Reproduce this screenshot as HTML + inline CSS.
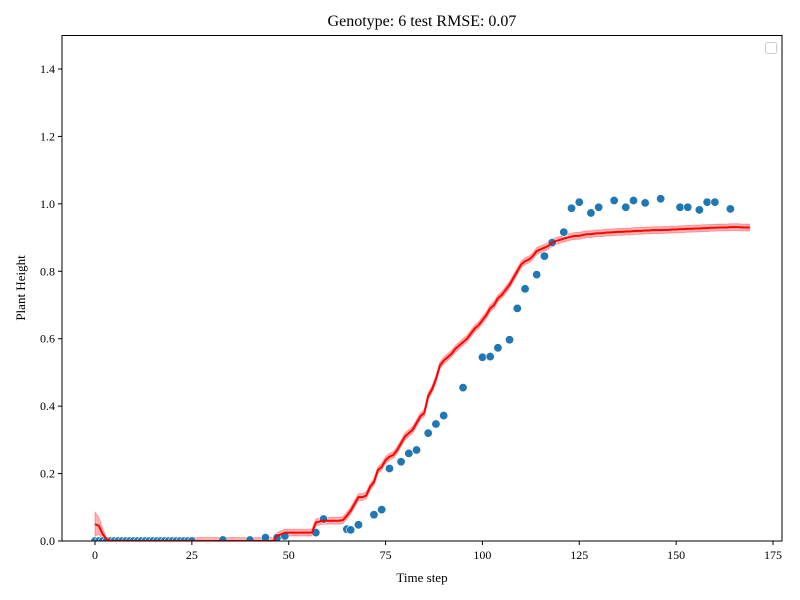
<!DOCTYPE html>
<html><head><meta charset="utf-8"><style>
body{margin:0;background:#fff}
svg{display:block;font-family:"Liberation Serif","DejaVu Serif",serif}
</style></head><body>
<svg id="chart" width="800" height="600" viewBox="0 0 800 600">
<rect width="800" height="600" fill="#fff"/>
<text x="422" y="26" font-size="16" text-anchor="middle">Genotype: 6 test RMSE: 0.07</text>
<g id="plot"></g>
<g id="axes"></g>
<rect x="765.5" y="42.5" width="11" height="11" rx="2" fill="#fff" stroke="#ccc"/>
<text x="422" y="582" font-size="13" text-anchor="middle">Time step</text>
<text transform="translate(25,288) rotate(-90)" font-size="13" text-anchor="middle">Plant Height</text>
</svg>
<script>
const xTicks=[0,25,50,75,100,125,150,175];
const yTicks=[0,0.2,0.4,0.6,0.8,1.0,1.2,1.4];
const obsX=[0,1,2,3,4,5,6,7,8,9,10,11,12,13,14,15,16,17,18,19,20,21,22,23,24,25,33,40,44,47,49,57,59,65,66,68,72,74,76,79,81,83,86,88,90,95,100,102,104,107,109,111,114,116,118,121,123,125,128,130,134,137,139,142,146,151,153,156,158,160,164];
const obsY=[0,0,0,0,0,0,0,0,0,0,0,0,0,0,0,0,0,0,0,0,0,0,0,0,0,0,0.003,0.003,0.01,0.01,0.015,0.025,0.065,0.035,0.033,0.048,0.078,0.093,0.215,0.235,0.26,0.27,0.32,0.347,0.372,0.455,0.545,0.547,0.573,0.597,0.69,0.748,0.79,0.845,0.885,0.916,0.987,1.005,0.973,0.99,1.01,0.99,1.01,1.003,1.015,0.99,0.99,0.982,1.005,1.005,0.985];
const predY=[0.05,0.045,0.02,0.005,0,0,0,0,0,0,
0,0,0,0,0,0,0,0,0,0,
0,0,0,0,0,0,0,0,0,0,
0,0,0,0,0,0,0,0,0,0,
0,0,0,0,0,0,0,0.015,0.02,0.025,
0.025,0.025,0.025,0.025,0.025,0.025,0.025,0.055,0.058,0.06,
0.06,0.06,0.06,0.06,0.062,0.075,0.09,0.11,0.13,0.13,
0.135,0.16,0.175,0.21,0.22,0.24,0.25,0.255,0.27,0.29,
0.31,0.32,0.33,0.35,0.37,0.38,0.43,0.45,0.48,0.52,
0.535,0.545,0.555,0.57,0.58,0.59,0.60,0.615,0.63,0.64,
0.655,0.67,0.69,0.70,0.72,0.73,0.745,0.76,0.78,0.80,
0.82,0.83,0.835,0.845,0.86,0.865,0.87,0.875,0.885,0.89,
0.893,0.897,0.9,0.903,0.905,0.905,0.908,0.91,0.91,0.912,
0.913,0.913,0.915,0.915,0.916,0.917,0.917,0.918,0.918,0.919,
0.92,0.92,0.921,0.921,0.922,0.922,0.922,0.923,0.923,0.924,
0.924,0.925,0.925,0.926,0.926,0.927,0.927,0.928,0.928,0.929,
0.929,0.93,0.93,0.93,0.931,0.931,0.931,0.93,0.93,0.93];
const predSpread=[0.035,0.025,0.015,0.006];
const defaultSpread=0.01;

const L=62,R=782,T=35.5,B=541;
const X=v=>95+v*(773-95)/175;
const Y=v=>B-v*(B-69)/1.4;
const NS='http://www.w3.org/2000/svg';
const plot=document.getElementById('plot'),axes=document.getElementById('axes');
function mk(tag,attrs,parent){const e=document.createElementNS(NS,tag);for(const k in attrs)e.setAttribute(k,attrs[k]);parent.appendChild(e);return e;}

const clip=mk('clipPath',{id:'clp'},plot);mk('rect',{x:L,y:T,width:R-L,height:B-T},clip);
const g=mk('g',{'clip-path':'url(#clp)'},plot);

const sp=i=>i<predSpread.length?predSpread[i]:defaultSpread;
let up='',lo='';
predY.forEach((v,i)=>{up+=(i?'L':'M')+X(i)+','+Y(v+sp(i));});
for(let i=predY.length-1;i>=0;i--){lo+='L'+X(i)+','+Y(Math.max(predY[i]-sp(i),-0.01));}
const band=mk('path',{d:up+lo+'Z',fill:'rgba(255,0,0,0.3)',stroke:'rgba(255,0,0,0.3)','stroke-width':1},g);



obsX.forEach((x,i)=>{
  const c=mk('circle',{cx:X(x),cy:Y(obsY[i]),r:4.2,fill:'#1f77b4',stroke:'#fff','stroke-width':0.6},g);
  
  
});

const line=mk('path',{d:predY.map((v,i)=>(i?'L':'M')+X(i)+','+Y(v)).join(''),fill:'none',stroke:'#ff0000','stroke-width':2},g);



mk('rect',{x:L,y:T,width:R-L,height:B-T,fill:'none',stroke:'#000','stroke-width':1},axes);
xTicks.forEach(t=>{
  mk('line',{x1:X(t),x2:X(t),y1:B,y2:B+4,stroke:'#000'},axes);
  const tx=mk('text',{x:X(t),y:B+18,'font-size':12,'text-anchor':'middle'},axes);tx.textContent=t;
  
  
});
yTicks.forEach(t=>{
  mk('line',{x1:L-4,x2:L,y1:Y(t),y2:Y(t),stroke:'#000'},axes);
  const tx=mk('text',{x:L-7,y:Y(t)+4,'font-size':12,'text-anchor':'end'},axes);tx.textContent=t.toFixed(1);
  
  
});
</script>
</body></html>
